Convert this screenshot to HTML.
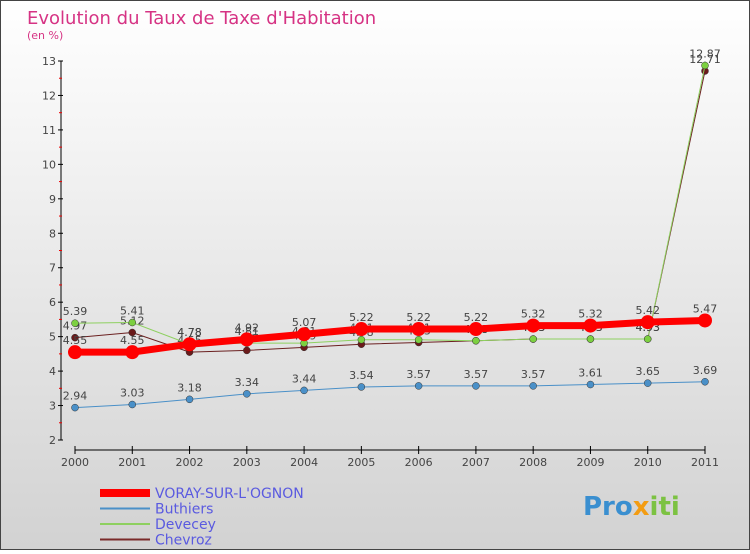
<!DOCTYPE html>
<html><head><meta charset="utf-8"><style>
body{margin:0;}
#c{width:750px;height:550px;position:relative;font-family:"DejaVu Sans","Liberation Sans",sans-serif;}
</style></head><body>
<div id="c">
<svg id="s" width="750" height="550" xmlns="http://www.w3.org/2000/svg">
<defs><linearGradient id="bg" x1="0" y1="0" x2="0" y2="1"><stop offset="0" stop-color="#ffffff"/><stop offset="1" stop-color="#d2d2d2"/></linearGradient></defs>
<rect x="0.5" y="0.5" width="749" height="549" fill="url(#bg)" stroke="#444"/>
<text x="27" y="24" font-size="18" fill="#d63384">Evolution du Taux de Taxe d'Habitation</text>
<text x="27" y="39" font-size="11" fill="#d63384">(en %)</text>
<g id="axes"></g><g id="series"></g><g id="legend"></g>
<text x="583" y="515" font-size="26" font-weight="bold" fill="#3a8fd0">Pro<tspan fill="#f39c12">x</tspan><tspan fill="#7cc242">iti</tspan></text>
</svg></div>
<script>
const years=[2000,2001,2002,2003,2004,2005,2006,2007,2008,2009,2010,2011];
const yTicks=[2,3,4,5,6,7,8,9,10,11,12,13];
const voray=[4.55,4.55,4.78,4.92,5.07,5.22,5.22,5.22,5.32,5.32,5.42,5.47];
const buthiers=[2.94,3.03,3.18,3.34,3.44,3.54,3.57,3.57,3.57,3.61,3.65,3.69];
const devecey=[5.39,5.41,4.78,4.81,4.81,4.91,4.91,4.88,4.93,4.93,4.93,12.87];
const chevroz=[4.97,5.12,4.55,4.6,4.69,4.78,4.83,4.88,4.93,4.93,4.93,12.71];
const NS="http://www.w3.org/2000/svg";
const X=i=>75+i*(630/11);
const Y=v=>440-(v-2)*(379/11);
function mk(tag,attrs,parent){const e=document.createElementNS(NS,tag);for(const k in attrs)e.setAttribute(k,attrs[k]);parent.appendChild(e);return e;}
const ax=document.getElementById('axes');
let a=mk('line',{x1:61,y1:Y(13),x2:61,y2:Y(2),stroke:'#000','stroke-width':1},ax);


yTicks.forEach(t=>{
  mk('line',{x1:58,y1:Y(t),x2:63,y2:Y(t),stroke:'#000'},ax);
  if(t<13) mk('line',{x1:59,y1:Y(t+0.5),x2:62,y2:Y(t+0.5),stroke:'#e00'},ax);
  const tx=mk('text',{x:56,y:Y(t)+4,'font-size':11,'text-anchor':'end',fill:'#444'},ax);
  tx.textContent=t;
  
  
});
a=mk('line',{x1:X(0),y1:450,x2:X(11),y2:450,stroke:'#000'},ax);


years.forEach((y,i)=>{
  mk('line',{x1:X(i),y1:446,x2:X(i),y2:454,stroke:'#000'},ax);
  const tx=mk('text',{x:X(i),y:466,'font-size':11,'text-anchor':'middle',fill:'#444'},ax);
  tx.textContent=y;
  
  
});
const sg=document.getElementById('series');
function series(name,data,color,w,r,dot){
  const g=mk('g',{},sg);
  
  
  mk('polyline',{points:data.map((v,i)=>X(i)+','+Y(v)).join(' '),fill:'none',stroke:color,'stroke-width':w},g);
  data.forEach((v,i)=>{
    const c=mk('circle',{cx:X(i),cy:Y(v),r:r,fill:dot,stroke:'#333','stroke-width':r>5?0:0.5},g);
    
    
    const t=mk('text',{x:X(i),y:Y(v)-8,'font-size':11,'text-anchor':'middle',fill:'#444'},g);
    t.textContent=v;
    
    
  });
}
series('buthiers',buthiers,'#4a90c8',1,3.5,'#4a90c8');
series('chevroz',chevroz,'#6b2020',1,3.5,'#6b1a1a');
series('devecey',devecey,'#8ed060',1,3.5,'#7cd040');
series('voray',voray,'#ff0000',7,7,'#ff0000');
const lg=document.getElementById('legend');
const items=[['VORAY-SUR-L\'OGNON','#ff0000',8],['Buthiers','#4a90c8',2],['Devecey','#8ed060',2],['Chevroz','#7a2a2a',2]];
items.forEach((it,i)=>{
  const y=493+i*15.5;
  const g=mk('g',{},lg);
  
  
  mk('line',{x1:100,y1:y,x2:150,y2:y,stroke:it[1],'stroke-width':it[2]},g);
  const t=mk('text',{x:155,y:y+5,'font-size':14,fill:'#5a5ae0'},g);
  t.textContent=it[0];
});
</script>
</body></html>
